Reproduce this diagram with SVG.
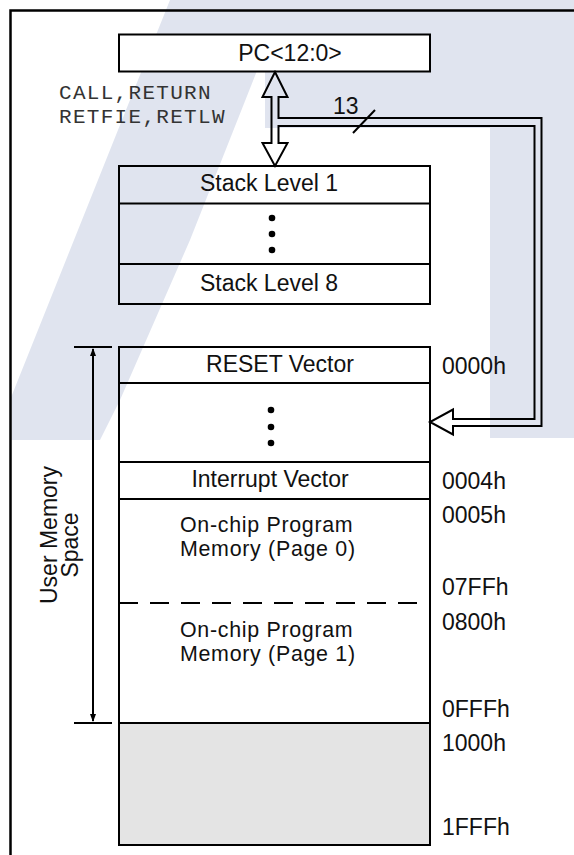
<svg xmlns="http://www.w3.org/2000/svg" width="574" height="855" viewBox="0 0 574 855">
<style>
.box{fill:none;stroke:#000;stroke-width:2}
.t{font-family:"Liberation Sans",Arial,sans-serif;font-size:23px;fill:#111}
.t2{font-family:"Liberation Sans",Arial,sans-serif;font-size:21.4px;letter-spacing:0.7px;fill:#111}
.m{font-family:"Liberation Mono","Courier New",monospace;font-size:21px;letter-spacing:1.3px;fill:#333}
.wm{fill:#e0e4ef}
.ln{stroke:#000;stroke-width:2;fill:none}
</style>
<defs>
<marker id="ah" markerWidth="8" markerHeight="12" refX="7" refY="4" orient="auto" markerUnits="userSpaceOnUse" viewBox="0 0 8 8">
<path d="M0,1 L8,4 L0,7 Z" fill="#000"/>
</marker>
</defs>
<rect width="574" height="855" fill="#fff"/>
<g id="watermark">
<polygon class="wm" points="265,0 574,0 574,438 490,438 490,128 265,128"/>
<polygon class="wm" points="170,0 285,0 190,240 120,400 100,440 10,440 10,400"/>
</g>
<path d="M10.5,856 V10.5 H575" fill="none" stroke="#000" stroke-width="2.5"/>
<g id="pc">
<rect x="119" y="34.5" width="311" height="37" fill="#fff" stroke="#000" stroke-width="2"/>
<text class="t" x="290" y="61" text-anchor="middle">PC&lt;12:0&gt;</text>
</g>
<g id="stack">
<rect class="box" x="119" y="166" width="311" height="138"/>
<line class="ln" x1="119" y1="203.5" x2="430" y2="203.5"/>
<line class="ln" x1="119" y1="264" x2="430" y2="264"/>
<text class="t" x="269" y="191" text-anchor="middle">Stack Level 1</text>
<circle cx="272" cy="218" r="3.3"/>
<circle cx="272" cy="234" r="3.3"/>
<circle cx="272" cy="250" r="3.3"/>
<text class="t" x="269" y="291" text-anchor="middle">Stack Level 8</text>
</g>
<g id="memory">
<rect x="119" y="723" width="311" height="122" fill="#e4e4e4"/>
<rect class="box" x="119" y="347" width="311" height="498"/>
<line class="ln" x1="119" y1="383" x2="430" y2="383"/>
<line class="ln" x1="119" y1="462" x2="430" y2="462"/>
<line class="ln" x1="119" y1="499" x2="430" y2="499"/>
<line class="ln" x1="119" y1="603" x2="430" y2="603" stroke-dasharray="19,12"/>
<line class="ln" x1="119" y1="723" x2="430" y2="723"/>
<text class="t" x="280" y="372" text-anchor="middle">RESET Vector</text>
<circle cx="271" cy="410" r="3.3"/>
<circle cx="271" cy="427" r="3.3"/>
<circle cx="271" cy="443" r="3.3"/>
<text class="t" x="270" y="487" text-anchor="middle">Interrupt Vector</text>
<text class="t2" x="180" y="532">On-chip Program</text>
<text class="t2" x="180" y="556">Memory (Page 0)</text>
<text class="t2" x="180" y="637">On-chip Program</text>
<text class="t2" x="180" y="661">Memory (Page 1)</text>
</g>
<g id="addresses">
<text class="t" x="442" y="374">0000h</text>
<text class="t" x="442" y="489">0004h</text>
<text class="t" x="442" y="523">0005h</text>
<text class="t" x="442" y="595">07FFh</text>
<text class="t" x="442" y="630">0800h</text>
<text class="t" x="442" y="717">0FFFh</text>
<text class="t" x="442" y="751">1000h</text>
<text class="t" x="442" y="835">1FFFh</text>
</g>
<g id="labels">
<text class="m" x="59" y="99">CALL,RETURN</text>
<text class="m" x="59" y="123">RETFIE,RETLW</text>
<text class="t" x="333" y="114" font-size="22">13</text>
<text class="t" transform="translate(57,535) rotate(-90)" text-anchor="middle">User Memory</text>
<text class="t" transform="translate(78,545) rotate(-90)" text-anchor="middle">Space</text>
</g>
<g id="connectors">
<path d="M275,72 L287.5,97 L278.5,97 L278.5,118 L541.5,118 L541.5,426 L453,426 L453,434.5 L430,422 L453,409.5 L453,419 L534.5,419 L534.5,126 L278.5,126 L278.5,143 L287.5,143 L275,166 L262.5,143 L271.5,143 L271.5,97 L262.5,97 Z" fill="none" stroke="#000" stroke-width="2" stroke-linejoin="miter"/>
<line class="ln" x1="353" y1="133" x2="375" y2="110" stroke-width="1.5"/>
<line class="ln" x1="74" y1="347" x2="112" y2="347"/>
<line class="ln" x1="74" y1="723" x2="112" y2="723"/>
<line class="ln" x1="93" y1="470" x2="93" y2="349" marker-end="url(#ah)"/>
<line class="ln" x1="93" y1="470" x2="93" y2="721" marker-end="url(#ah)"/>
</g>
</svg>
